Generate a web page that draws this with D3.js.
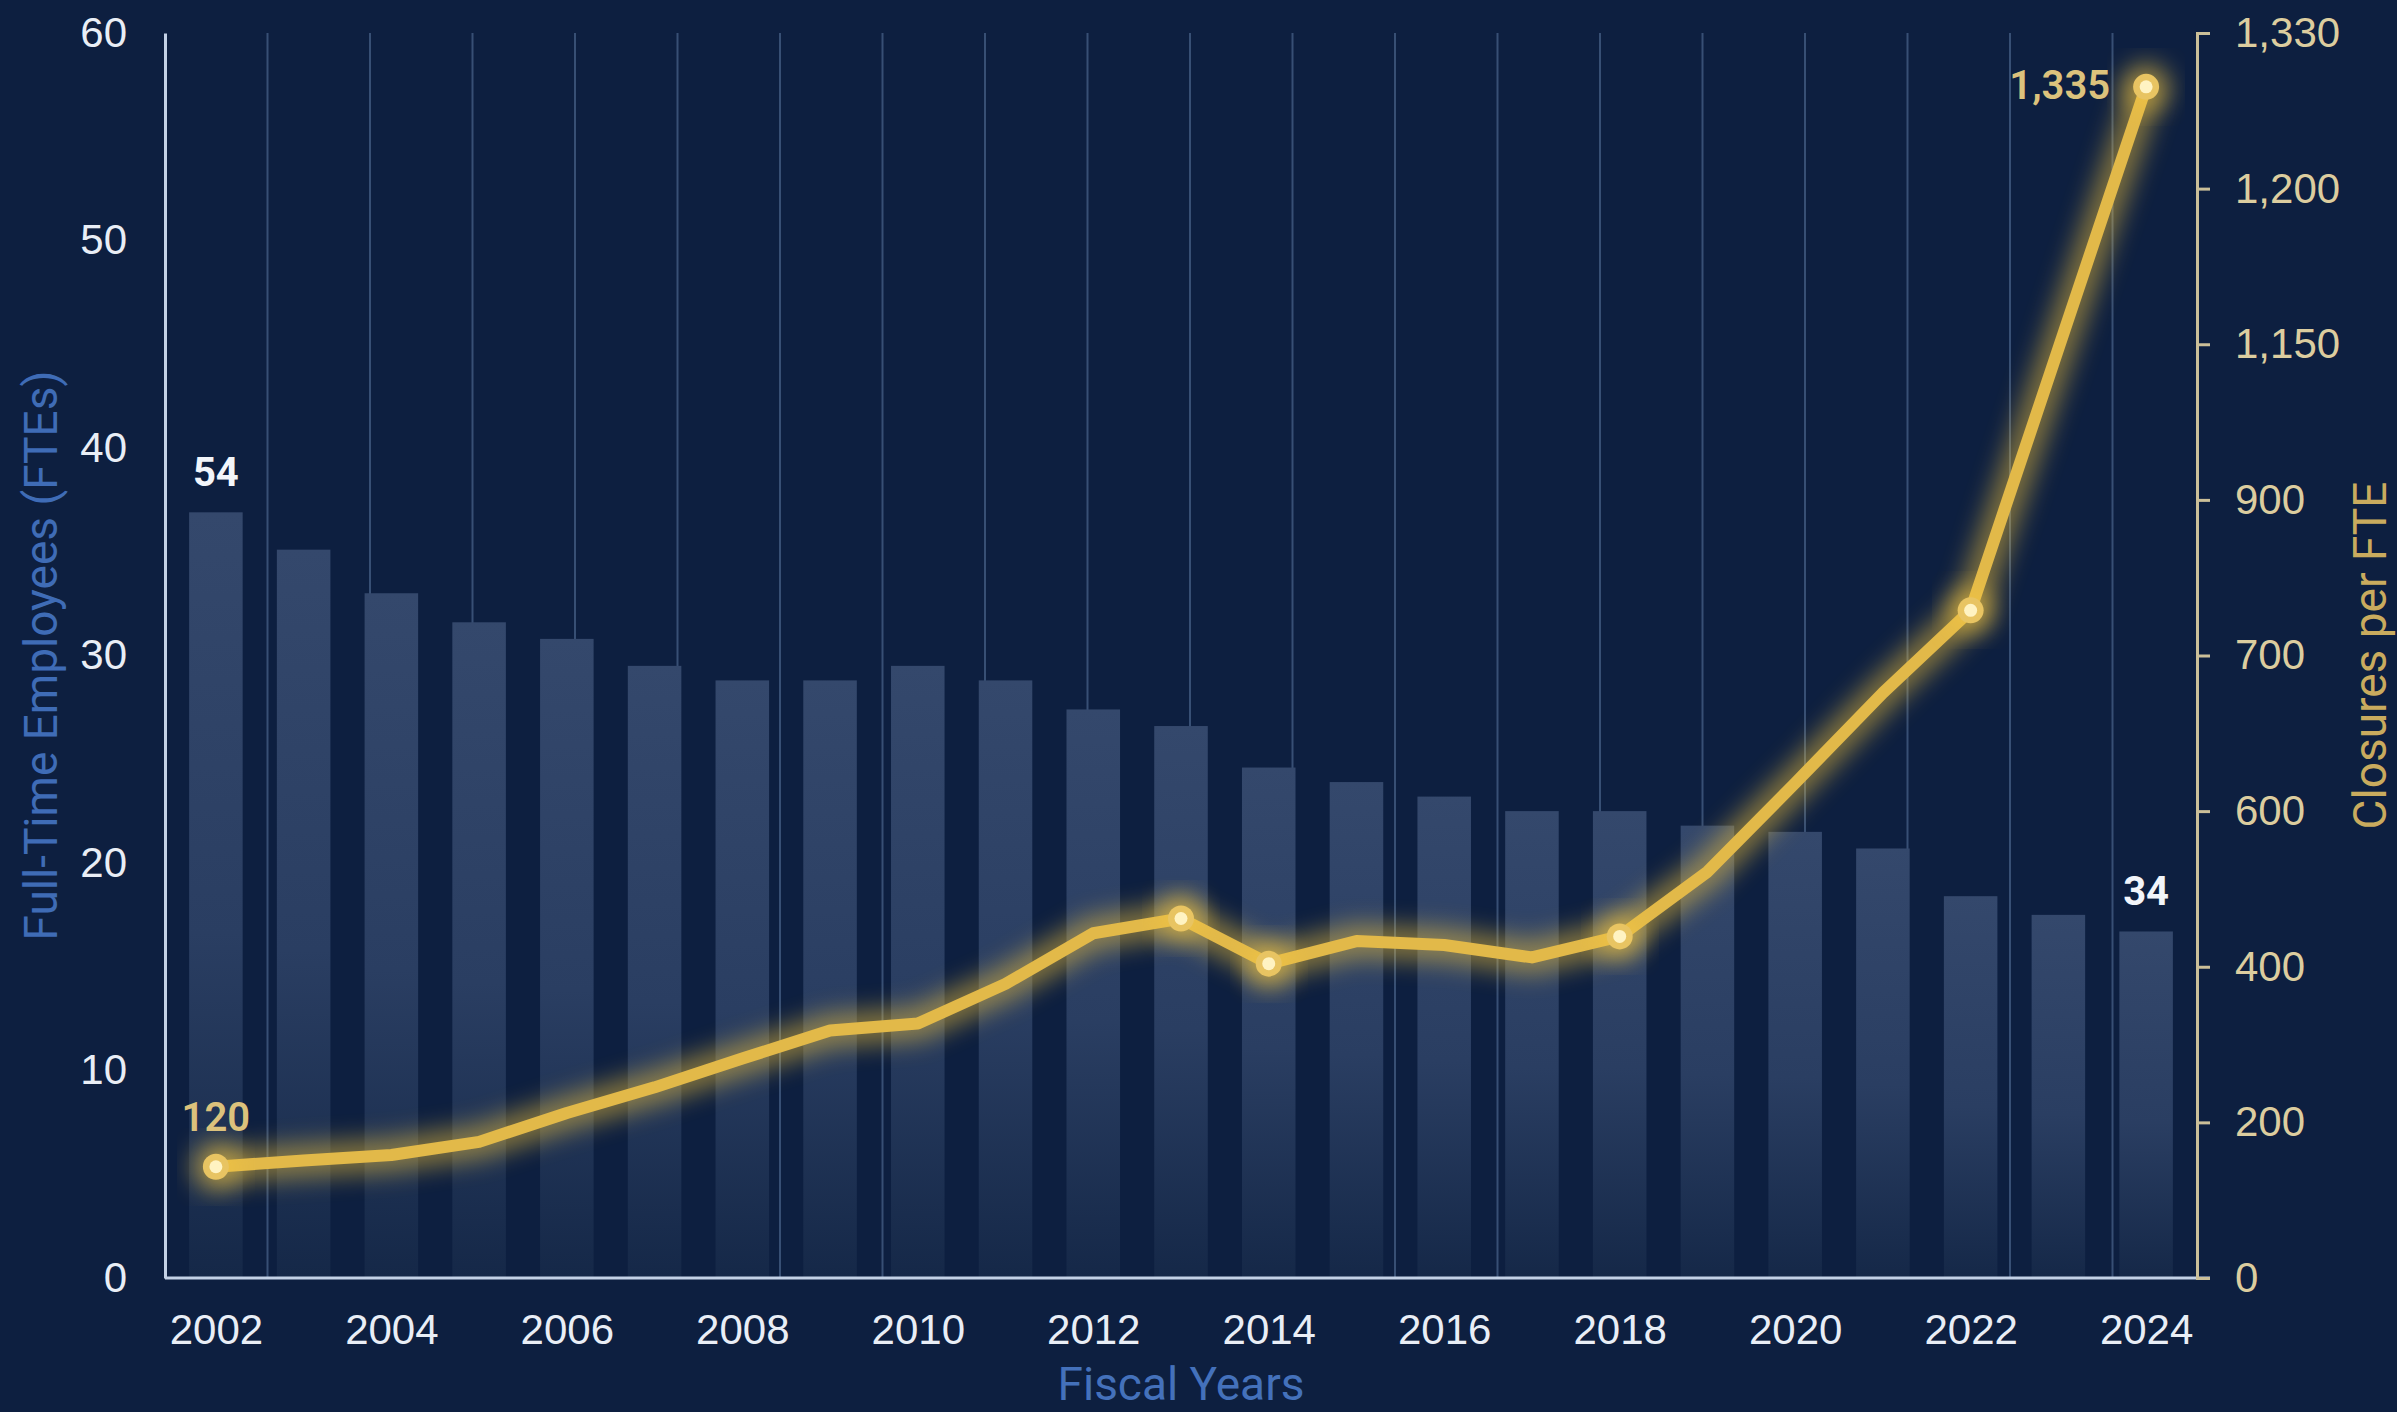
<!DOCTYPE html>
<html>
<head>
<meta charset="utf-8">
<script src="https://cdn.jsdelivr.net/npm/d3@7"></script>
<style>
  html, body { margin: 0; padding: 0; background: #0d1f40; }
  svg { display: block; font-family: Roboto, "Noto Sans", sans-serif; }
</style>
</head>
<body>
<div id="chart"></div>
<script>
// data
const years = d3.range(2002, 2025);
const fteValues = [36.9, 35.1, 33.0, 31.6, 30.8, 29.5, 28.8, 28.8, 29.5, 28.8, 27.4, 26.6,
                   24.6, 23.9, 23.2, 22.5, 22.5, 21.8, 21.5, 20.7, 18.4, 17.5, 16.7];
const closureValues = [143, 151, 158, 175, 212, 245, 282, 318, 327, 378, 443, 462,
                       404, 433, 428, 412, 439, 522, 618, 676, 758, 1143, 1285];
const markerYears = [2002, 2013, 2014, 2018, 2022, 2024];
const leftTicks = [0, 10, 20, 30, 40, 50, 60];
const rightTicks = [0, 200, 400, 600, 700, 900, 1150, 1200, 1330];
const yearTicks = d3.range(2002, 2025, 2);
const fteLabels = [{ year: 2002, text: "54" }, { year: 2024, text: "34" }];
const closureLabels = [{ year: 2002, text: "120", pos: "top" }, { year: 2024, text: "1,335", pos: "left" }];

const width = 2397, height = 1412;
const margin = { top: 33, right: 200, bottom: 134, left: 165 };
const innerW = width - margin.left - margin.right;
const innerH = height - margin.top - margin.bottom;

const svg = d3.select("#chart").append("svg")
    .attr("width", width)
    .attr("height", height);

svg.append("rect").attr("width", width).attr("height", height).attr("fill", "#0d1f40");

let defs = svg.append("defs");
let grad = defs.append("linearGradient").attr("id", "barGrad")
    .attr("x1", 0).attr("y1", 0).attr("x2", 0).attr("y2", 1);
grad.append("stop").attr("offset", "0%").attr("stop-color", "#34486c");
grad.append("stop").attr("offset", "55%").attr("stop-color", "#2a3e62");
grad.append("stop").attr("offset", "100%").attr("stop-color", "#152848");

let glow = defs.append("filter").attr("id", "glow")
    .attr("x", "-30%").attr("y", "-30%").attr("width", "160%").attr("height", "160%");
glow.append("feGaussianBlur").attr("stdDeviation", 12);

const g = svg.append("g").attr("transform", `translate(${margin.left},${margin.top})`);

const x = d3.scalePoint().domain(years).range([0, innerW]).padding(0.58);
const barW = x.step() * 0.61;
const y = d3.scaleLinear().domain([0, 60]).range([innerH, 0]);
// right axis: evenly spaced ticks with uneven values
const yR = d3.scaleLinear()
    .domain(rightTicks)
    .range(rightTicks.map((d, i) => innerH - i * innerH / (rightTicks.length - 1)));

// vertical grid lines
const gridStep = 102.5;
g.append("g").selectAll("line")
    .data(d3.range(1, 20))
    .enter().append("line")
    .attr("x1", d => d * gridStep).attr("x2", d => d * gridStep)
    .attr("y1", 0).attr("y2", innerH)
    .attr("stroke", "#425b82")
    .attr("stroke-width", 2)
    .attr("opacity", 0.8);

// bars
g.selectAll(".bar")
    .data(years.map((yr, i) => ({ yr, v: fteValues[i] })))
    .enter().append("rect")
    .attr("class", "bar")
    .attr("x", d => x(d.yr) - barW / 2)
    .attr("y", d => y(d.v))
    .attr("width", barW)
    .attr("height", d => innerH - y(d.v))
    .attr("fill", "url(#barGrad)");

g.selectAll(".fte-label")
    .data(fteLabels)
    .enter().append("text")
    .attr("x", d => x(d.year))
    .attr("y", d => y(fteValues[years.indexOf(d.year)]) - 26)
    .attr("text-anchor", "middle")
    .style("font-size", "40px")
    .style("font-weight", "bold")
    .style("fill", "#f2f5fa")
    .text(d => d.text);

// axes
let leftAxis = g.append("g")
    .call(d3.axisLeft(y).tickValues(leftTicks).tickSize(0).tickPadding(38));
leftAxis.select(".domain").attr("stroke", "#c3d1e6").attr("stroke-width", 3);
leftAxis.selectAll("text").style("font-size", "42px").style("fill", "#e9eef6");

let bottomAxis = g.append("g")
    .attr("transform", `translate(0,${innerH})`)
    .call(d3.axisBottom(x).tickValues(yearTicks).tickSize(0).tickPadding(36));
bottomAxis.select(".domain").attr("stroke", "#c3d1e6").attr("stroke-width", 3)
    .attr("d", `M0,0H${innerW + 13}`);
bottomAxis.selectAll("text").style("font-size", "42px").style("fill", "#e9eef6");

let rightAxis = g.append("g")
    .attr("transform", `translate(${innerW},0)`)
    .call(d3.axisRight(yR).tickValues(rightTicks).tickSize(13).tickPadding(25)
        .tickFormat(d3.format(",")));
rightAxis.select(".domain").attr("stroke", "#cbbf98").attr("stroke-width", 3);
rightAxis.selectAll("line").attr("stroke", "#cbbf98").attr("stroke-width", 3);
rightAxis.selectAll("text").style("font-size", "42px").style("fill", "#dccd9f");

// axis titles
g.append("text")
    .attr("transform", `translate(${-124},${innerH / 2}) rotate(-90)`)
    .attr("text-anchor", "middle")
    .attr("dy", "0.35em")
    .style("font-size", "46px")
    .style("fill", "#3f6cb6")
    .text("Full-Time Employees (FTEs)");

g.append("text")
    .attr("transform", `translate(${innerW + 173},${innerH / 2}) rotate(-90)`)
    .attr("text-anchor", "middle")
    .attr("dy", "0.35em")
    .style("font-size", "46px")
    .style("fill", "#c9ab5e")
    .text("Closures per FTE");

g.append("text")
    .attr("x", innerW / 2)
    .attr("y", innerH + 106)
    .attr("dy", "0.35em")
    .attr("text-anchor", "middle")
    .style("font-size", "46px")
    .style("fill", "#4471bb")
    .text("Fiscal Years");

// closures line with glow
const lineData = years.map((yr, i) => ({ yr, v: closureValues[i] }));
const line = d3.line().x(d => x(d.yr)).y(d => yR(d.v));

g.append("path")
    .datum(lineData)
    .attr("d", line)
    .attr("fill", "none")
    .attr("stroke", "#f5c63a")
    .attr("stroke-width", 34)
    .attr("stroke-linejoin", "round")
    .attr("opacity", 0.5)
    .attr("filter", "url(#glow)");

g.append("path")
    .datum(lineData)
    .attr("d", line)
    .attr("fill", "none")
    .attr("stroke", "#e2b949")
    .attr("stroke-width", 12)
    .attr("stroke-linejoin", "round")
    .attr("stroke-linecap", "round");

const markers = lineData.filter(d => markerYears.includes(d.yr));
g.selectAll(".m-glow").data(markers).enter().append("circle")
    .attr("cx", d => x(d.yr)).attr("cy", d => yR(d.v))
    .attr("r", 24).attr("fill", "#f5c842").attr("opacity", 0.55)
    .attr("filter", "url(#glow)");
g.selectAll(".m-ring").data(markers).enter().append("circle")
    .attr("cx", d => x(d.yr)).attr("cy", d => yR(d.v))
    .attr("r", 13).attr("fill", "#e8c462");
g.selectAll(".m-dot").data(markers).enter().append("circle")
    .attr("cx", d => x(d.yr)).attr("cy", d => yR(d.v))
    .attr("r", 6.5).attr("fill", "#fff3c2");

g.selectAll(".closure-label")
    .data(closureLabels)
    .enter().append("text")
    .attr("x", d => d.pos === "left" ? x(d.year) - 36 : x(d.year))
    .attr("y", d => {
        let cy = yR(closureValues[years.indexOf(d.year)]);
        return d.pos === "left" ? cy - 2 : cy - 50;
    })
    .attr("dy", "0.35em")
    .attr("text-anchor", d => d.pos === "left" ? "end" : "middle")
    .style("font-size", "40px")
    .style("font-weight", 600)
    .style("fill", "#dcc27c")
    .text(d => d.text);
</script>
</body>
</html>
